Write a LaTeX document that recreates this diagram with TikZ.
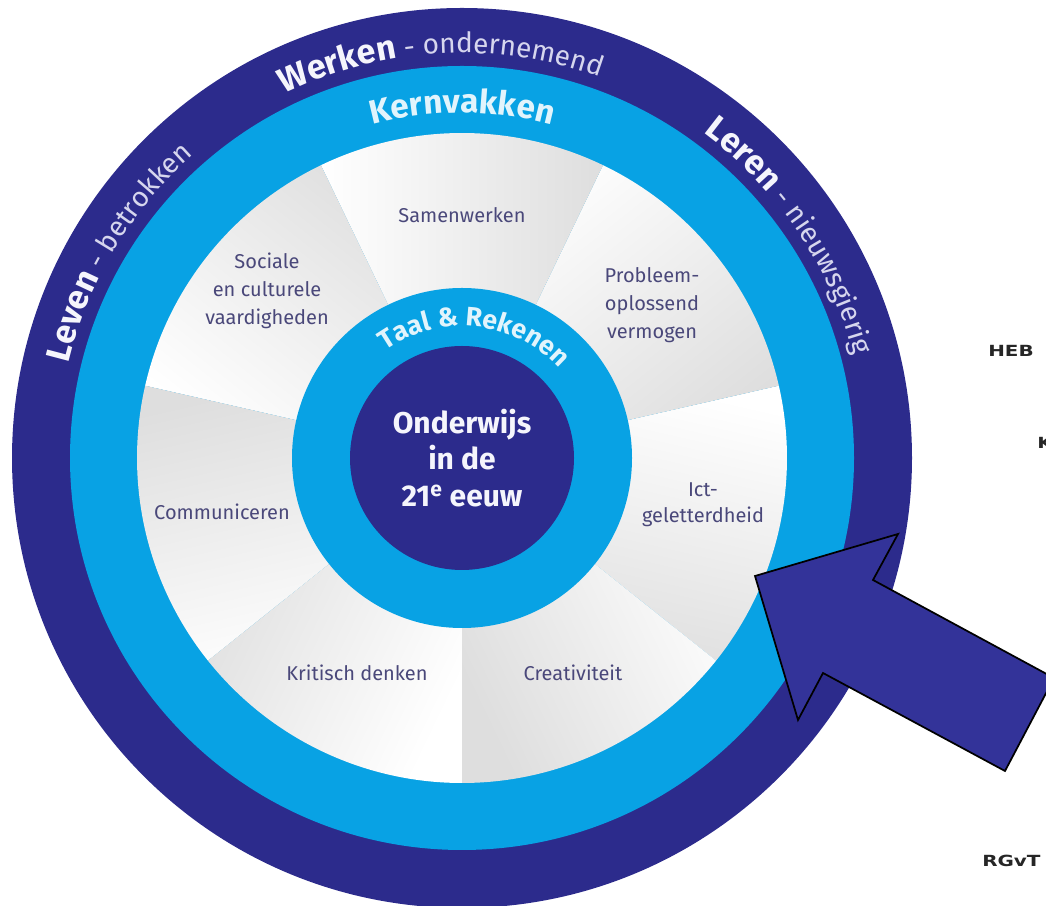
\documentclass[tikz,border=0pt]{standalone}
\usepackage{fontspec}
\setmainfont{Fira Sans}
\newfontfamily\handfont{DejaVu Sans}
\usetikzlibrary{decorations.text}
\definecolor{navy}{RGB}{44,43,140}
\definecolor{sky}{RGB}{8,162,228}
\definecolor{arrowblue}{RGB}{51,51,153}
\definecolor{labelcol}{RGB}{74,72,122}
\definecolor{ringwhite}{RGB}{245,245,252}
\definecolor{ringlight}{RGB}{214,214,238}
\definecolor{kerncol}{RGB}{225,244,252}
\begin{document}
\begin{tikzpicture}[x=0.75pt,y=0.75pt,
  wedgelabel/.style={align=center, text=labelcol, font=\fontsize{15}{21}\selectfont},
  sidetext/.style={text=black!85, font=\handfont\bfseries\fontsize{11.5}{14}\selectfont, inner sep=0pt, anchor=west},
  ringtext/.style={decorate, decoration={text along path, text align=center, text={#1}}},
]
\useasboundingbox (0,0) rectangle (1046,906);
\clip (0,0) rectangle (1046,906);
\coordinate (C) at (462,448);
% rings and wedges
\fill[navy] (C) circle[radius=450];
\fill[sky] (C) circle[radius=392];
\foreach \i in {0,...,6}{
  \pgfmathsetmacro\aa{-38.5714+\i*51.4286}
  \pgfmathsetmacro\bb{\aa+51.4286}
  \pgfmathsetmacro\mm{\aa+25.7143}
  \shade[top color=white, bottom color=black!13, shading angle=\mm]
    (C) -- ([shift={(\aa:325)}]C) arc[start angle=\aa, end angle=\bb, radius=325] -- cycle;
}
\fill[sky] (C) circle[radius=170];
\fill[navy] (C) circle[radius=112];
% curved texts
\path[ringtext={|\color{ringwhite}\fontsize{25.5}{30}\selectfont\bfseries|Werken|\color{ringlight}\fontsize{21}{25}\selectfont\mdseries| - ondernemend}]
  ([shift={(133:405)}]C) arc[start angle=133, end angle=53, radius=405];
\path[ringtext={|\color{ringwhite}\fontsize{25.5}{30}\selectfont\bfseries|Leren|\color{ringlight}\fontsize{21}{25}\selectfont\mdseries| - nieuwsgierig}]
  ([shift={(84:405)}]C) arc[start angle=84, end angle=-16, radius=405];
\path[ringtext={|\color{ringwhite}\fontsize{25.5}{30}\selectfont\bfseries|Leven|\color{ringlight}\fontsize{21}{25}\selectfont\mdseries| - betrokken}]
  ([shift={(199:405)}]C) arc[start angle=199, end angle=99, radius=405];
\path[ringtext={|\color{kerncol}\fontsize{25}{30}\selectfont\bfseries|Kernvakken}]
  ([shift={(130:345)}]C) arc[start angle=130, end angle=50, radius=345];
\path[ringtext={|\color{kerncol}\fontsize{20}{24}\selectfont\bfseries|Taal {\&} Rekenen}]
  ([shift={(174:132)}]C) arc[start angle=174, end angle=-6, radius=132];
% labels
\node[align=center, text=ringwhite, font=\fontsize{22.5}{27.5}\selectfont\bfseries] (core) at (C) {Onderwijs\\in de\\21\textsuperscript{e} eeuw};
\node[wedgelabel] (samen) at (462,691) {Samenwerken};
\node[wedgelabel] (sociaal) at (267,615) {Sociale\\en culturele\\vaardigheden};
\node[wedgelabel] (probleem) at (652,601) {Probleem-\\oplossend\\vermogen};
\node[wedgelabel, font=\fontsize{15}{19.5}\selectfont] (ict) at (703,401) {Ict-\\geletterdheid};
\node[wedgelabel] (creat) at (573,233) {Creativiteit};
\node[wedgelabel] (kritisch) at (357,233) {Kritisch denken};
\node[wedgelabel] (comm) at (222,394) {Communiceren};
% arrow
\filldraw[fill=arrowblue, draw=black, line width=1.3pt, line join=miter]
  (755,330) -- (898,372) -- (873,326) -- (1054,228) -- (1005,135) -- (823,233) -- (798,186) -- cycle;
% side texts
\node[sidetext] (heb) at (988,555) {\scalebox{1.3}[1]{HEB}};
\node[sidetext] (k) at (1037,463) {\scalebox{1.3}[1]{K}};
\node[sidetext] (rgvt) at (982,45) {\scalebox{1.3}[1]{RGvT}};
\end{tikzpicture}
\end{document}
